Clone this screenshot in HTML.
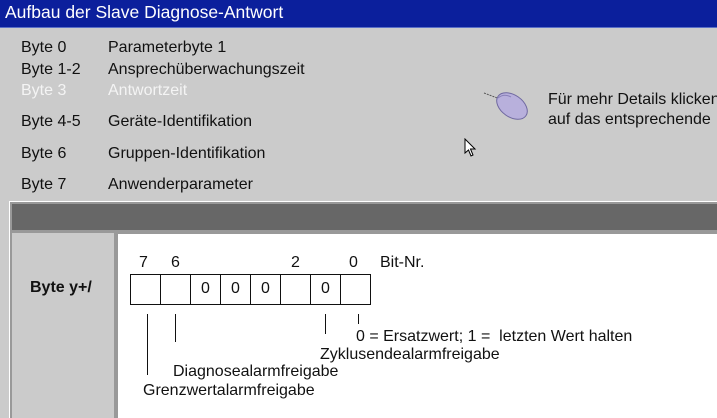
<!DOCTYPE html>
<html><head><meta charset="utf-8"><style>
*{margin:0;padding:0;box-sizing:border-box}
body{width:717px;height:418px;background:#cbcbcb;position:relative;overflow:hidden;font-family:"Liberation Sans",Arial,sans-serif;color:#111}
.a{position:absolute;white-space:nowrap;line-height:1}
.t{font-size:16px}
.w{color:#f4f4f4}
.l{position:absolute;width:1px;background:#111}
.c{position:absolute;top:274px;height:31px;width:31px;border:1px solid #111;font-size:16px;text-align:center;line-height:28px;background:#fff}
</style></head><body>
<div class="a" style="left:0;top:0;width:717px;height:28px;background:#0b1f9c;border-bottom:1px solid #5a6fc8"></div>
<div class="a" style="left:5px;top:4px;font-size:17.5px;color:#fff">Aufbau der Slave Diagnose-Antwort</div>

<div class="a t" style="left:21px;top:40px">Byte 0</div><div class="a t" style="left:108px;top:40px">Parameterbyte 1</div>
<div class="a t" style="left:21px;top:62px">Byte 1-2</div><div class="a t" style="left:108px;top:62px">Ansprechüberwachungszeit</div>
<div class="a t w" style="left:21px;top:83px">Byte 3</div><div class="a t w" style="left:108px;top:83px">Antwortzeit</div>
<div class="a t" style="left:21px;top:114px">Byte 4-5</div><div class="a t" style="left:108px;top:114px">Geräte-Identifikation</div>
<div class="a t" style="left:21px;top:146px">Byte 6</div><div class="a t" style="left:108px;top:146px">Gruppen-Identifikation</div>
<div class="a t" style="left:21px;top:177px">Byte 7</div><div class="a t" style="left:108px;top:177px">Anwenderparameter</div>

<svg class="a" style="left:480px;top:85px" width="60" height="50">
<line x1="4" y1="8" x2="20" y2="14" stroke="#555" stroke-dasharray="2,1"/>
<ellipse cx="32" cy="21" rx="17" ry="11" transform="rotate(35 32 21)" fill="#b8b0dc" stroke="#6f68a0"/>
<path d="M18 13 Q24 8 31 12" stroke="#8880b8" fill="none"/>
</svg>
<div class="a t" style="left:548px;top:92px">Für mehr Details klicken</div>
<div class="a t" style="left:548px;top:112px">auf das entsprechende</div>
<svg class="a" style="left:464px;top:138px" width="14" height="20"><path d="M1 1 L1 15 L4.5 12 L7 18 L9 17 L6.5 11 L11 11 Z" fill="#fff" stroke="#000"/></svg>

<div class="a" style="left:9px;top:201px;width:708px;height:217px;background:#fff"></div>
<div class="a" style="left:10px;top:202px;width:707px;height:216px;background:#999"></div>
<div class="a" style="left:12px;top:204px;width:705px;height:26px;background:#676767"></div>
<div class="a" style="left:12px;top:233px;width:102px;height:185px;background:#cbcbcb"></div>
<div class="a" style="left:118px;top:234px;width:599px;height:184px;background:#fff"></div>
<div class="a" style="left:30px;top:280px;font-size:16px;font-weight:bold">Byte y+/</div>

<div class="a t" style="left:139px;top:255px">7</div>
<div class="a t" style="left:171px;top:255px">6</div>
<div class="a t" style="left:291px;top:255px">2</div>
<div class="a t" style="left:349px;top:255px">0</div>
<div class="a t" style="left:380px;top:255px">Bit-Nr.</div>

<div class="c" style="left:130px"></div>
<div class="c" style="left:160px"></div>
<div class="c" style="left:190px">0</div>
<div class="c" style="left:220px">0</div>
<div class="c" style="left:250px">0</div>
<div class="c" style="left:280px"></div>
<div class="c" style="left:310px">0</div>
<div class="c" style="left:340px"></div>

<div class="l" style="left:147px;top:314px;height:61px"></div>
<div class="l" style="left:175px;top:314px;height:28px"></div>
<div class="l" style="left:325px;top:314px;height:20px"></div>
<div class="l" style="left:358px;top:314px;height:10px"></div>

<div class="a t" style="left:356px;top:329px">0 = Ersatzwert; 1 = &nbsp;letzten Wert halten</div>
<div class="a t" style="left:320px;top:347px">Zyklusendealarmfreigabe</div>
<div class="a t" style="left:173px;top:364px">Diagnosealarmfreigabe</div>
<div class="a t" style="left:143px;top:383px">Grenzwertalarmfreigabe</div>
</body></html>
